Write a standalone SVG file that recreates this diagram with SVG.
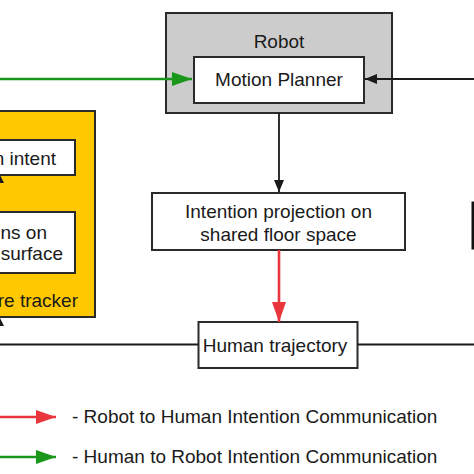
<svg xmlns="http://www.w3.org/2000/svg" width="474" height="474" viewBox="0 0 474 474">
<style>
text{font-family:"Liberation Sans",Arial,sans-serif;font-size:19px;fill:#1a1a1a}
.box{fill:#fff;stroke:#2a2a2a;stroke-width:2}
.blk{stroke:#1a1a1a;stroke-width:1.8;fill:none}
.red{stroke:#e8363c;stroke-width:2.6;fill:none}
.grn{stroke:#1a961a;stroke-width:2.6;fill:none}
</style>
<defs>
<marker id="ab" viewBox="0 0 12 10" refX="12" refY="5" markerWidth="12" markerHeight="10" markerUnits="userSpaceOnUse" orient="auto"><path d="M0,0 L12,5 L0,10 Z" fill="#1a1a1a"/></marker>
<marker id="ar" viewBox="0 0 20 14" refX="20" refY="7" markerWidth="20" markerHeight="14" markerUnits="userSpaceOnUse" orient="auto"><path d="M0,0 L20,7 L0,14 Z" fill="#e8363c"/></marker>
<marker id="ag" viewBox="0 0 20 14" refX="20" refY="7" markerWidth="20" markerHeight="14" markerUnits="userSpaceOnUse" orient="auto"><path d="M0,0 L20,7 L0,14 Z" fill="#1a961a"/></marker>
</defs>
<rect width="474" height="474" fill="#fff"/>

<g id="robot">
<rect x="166" y="13" width="226" height="100" fill="#cccccc" stroke="#2a2a2a" stroke-width="2"/>
<text x="279" y="48" text-anchor="middle">Robot</text>
</g>
<g id="motion-planner">
<rect class="box" x="194" y="57" width="170" height="46"/>
<text x="279" y="86" text-anchor="middle">Motion Planner</text>
</g>

<g id="human-side">
<rect x="-20" y="111" width="115" height="206" fill="#ffc800" stroke="#2a2a2a" stroke-width="2"/>
<text x="78" y="307" text-anchor="end">re tracker</text>
</g>
<g id="human-intent">
<rect class="box" x="-20" y="140" width="95" height="35"/>
<text x="56" y="165" text-anchor="end">n intent</text>
</g>
<g id="projections">
<rect class="box" x="-20" y="212" width="95" height="61"/>
<text x="47" y="239" text-anchor="end">ns on</text>
<text x="63" y="260" text-anchor="end">surface</text>
</g>

<g id="intention-projection">
<rect class="box" x="152" y="193" width="253" height="57"/>
<text x="278.5" y="218" text-anchor="middle">Intention projection on</text>
<text x="278.5" y="241" text-anchor="middle">shared floor space</text>
</g>

<g id="human-trajectory">
<rect class="box" x="198.5" y="322" width="159" height="46"/>
<text x="275" y="352" text-anchor="middle">Human trajectory</text>
</g>

<g id="right-node">
<rect x="473" y="203" width="20" height="45" fill="#fff" stroke="#111" stroke-width="3"/>
</g>

<g id="connectors">
<line class="grn" x1="0" y1="79" x2="192" y2="79" marker-end="url(#ag)"/>
<line class="blk" x1="474" y1="79" x2="365" y2="79" marker-end="url(#ab)"/>
<line class="blk" x1="279" y1="113" x2="279" y2="192" marker-end="url(#ab)"/>
<line class="red" x1="279" y1="250" x2="279" y2="322" marker-end="url(#ar)"/>
<line class="blk" x1="0" y1="344.5" x2="198.5" y2="344.5"/>
<line class="blk" x1="357.5" y1="344.5" x2="474" y2="344.5"/>
<path d="M-4,183 L0,175 L4,183 Z" fill="#1a1a1a"/>
<path d="M-4,326 L0,318 L4,326 Z" fill="#1a1a1a"/>
</g>

<g id="legend">
<line class="red" x1="0" y1="417" x2="56" y2="417" marker-end="url(#ar)"/>
<text x="72" y="423">- Robot to Human Intention Communication</text>
<line class="grn" x1="0" y1="457" x2="56" y2="457" marker-end="url(#ag)"/>
<text x="72" y="463">- Human to Robot Intention Communication</text>
</g>
</svg>
